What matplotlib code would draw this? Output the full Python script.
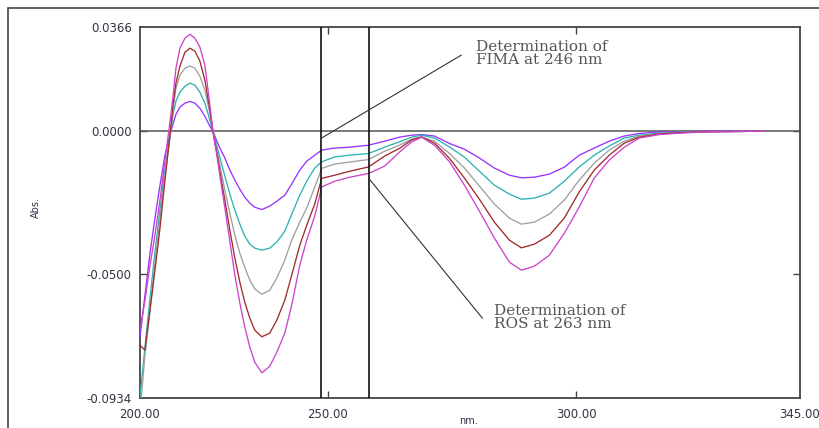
import matplotlib
matplotlib.use("Agg")
import matplotlib.pyplot as plt
from matplotlib.patches import Rectangle

# ---------------- data ----------------
wavelength = [212.25, 213.25, 214.26, 215.26, 216.27, 217.27, 218.27, 218.88, 219.48, 220.28,
              221.29, 222.29, 223.29, 224.30, 225.30, 226.31, 226.91, 227.71, 228.51, 229.32,
              230.32, 231.33, 232.33, 233.33, 234.34, 235.34, 236.75, 238.35, 239.76, 241.37,
              242.77, 244.38, 245.78, 247.39, 248.80, 251.41, 254.42, 258.23, 261.45, 264.46,
              266.87, 268.88, 271.49, 274.50, 277.51, 280.52, 283.53, 286.55, 288.96, 291.57,
              294.58, 297.59, 300.60, 303.61, 306.63, 309.64, 312.65, 316.67, 320.68, 326.71,
              332.73, 337.75]

abs_purple = [-0.0720, -0.0573, -0.0427, -0.0304, -0.0189, -0.0084, -0.0014, 0.0024, 0.0059, 0.0084,
              0.0098, 0.0104, 0.0098, 0.0080, 0.0052, 0.0017, 0.0000, -0.0035, -0.0066, -0.0094,
              -0.0136, -0.0171, -0.0203, -0.0231, -0.0252, -0.0266, -0.0274, -0.0262, -0.0245, -0.0224,
              -0.0185, -0.0136, -0.0105, -0.0084, -0.0066, -0.0059, -0.0056, -0.0049, -0.0035, -0.0021,
              -0.0014, -0.0012, -0.0017, -0.0043, -0.0063, -0.0094, -0.0129, -0.0154, -0.0163, -0.0161,
              -0.0150, -0.0126, -0.0084, -0.0059, -0.0035, -0.0017, -0.0008, -0.0003, -0.0002, 0.0000,
              0.0000, 0.0000]

abs_teal = [-0.0930, -0.0755, -0.0584, -0.0423, -0.0276, -0.0136, -0.0021, 0.0056, 0.0105, 0.0136,
            0.0157, 0.0168, 0.0161, 0.0136, 0.0098, 0.0038, 0.0000, -0.0052, -0.0105, -0.0157,
            -0.0220, -0.0276, -0.0325, -0.0367, -0.0395, -0.0409, -0.0416, -0.0409, -0.0388, -0.0350,
            -0.0290, -0.0224, -0.0175, -0.0129, -0.0107, -0.0090, -0.0084, -0.0078, -0.0056, -0.0037,
            -0.0021, -0.0014, -0.0024, -0.0055, -0.0091, -0.0140, -0.0189, -0.0220, -0.0238, -0.0234,
            -0.0217, -0.0175, -0.0125, -0.0084, -0.0052, -0.0024, -0.0014, -0.0007, -0.0003, -0.0002,
            -0.0001, 0.0000]

abs_gray = [-0.0983, -0.0783, -0.0626, -0.0458, -0.0304, -0.0154, -0.0021, 0.0073, 0.0150, 0.0196,
            0.0220, 0.0228, 0.0220, 0.0192, 0.0143, 0.0063, 0.0000, -0.0066, -0.0136, -0.0206,
            -0.0287, -0.0364, -0.0427, -0.0476, -0.0521, -0.0552, -0.0570, -0.0556, -0.0514, -0.0451,
            -0.0381, -0.0318, -0.0269, -0.0196, -0.0130, -0.0115, -0.0108, -0.0099, -0.0070, -0.0049,
            -0.0028, -0.0020, -0.0035, -0.0078, -0.0129, -0.0192, -0.0255, -0.0304, -0.0325, -0.0318,
            -0.0290, -0.0241, -0.0171, -0.0112, -0.0066, -0.0035, -0.0017, -0.0009, -0.0005, -0.0002,
            -0.0001, 0.0000]

abs_red = [-0.0748, -0.0766, -0.0626, -0.0486, -0.0339, -0.0171, -0.0014, 0.0091, 0.0168, 0.0227,
           0.0276, 0.0290, 0.0280, 0.0245, 0.0178, 0.0073, 0.0000, -0.0077, -0.0161, -0.0241,
           -0.0346, -0.0444, -0.0528, -0.0598, -0.0654, -0.0696, -0.0719, -0.0706, -0.0661, -0.0591,
           -0.0503, -0.0399, -0.0329, -0.0255, -0.0165, -0.0154, -0.0140, -0.0125, -0.0087, -0.0060,
           -0.0031, -0.0020, -0.0042, -0.0095, -0.0164, -0.0238, -0.0318, -0.0381, -0.0408, -0.0395,
           -0.0364, -0.0304, -0.0212, -0.0136, -0.0084, -0.0042, -0.0021, -0.0010, -0.0005, -0.0002,
           -0.0001, 0.0000]

abs_magenta = [-0.0696, -0.0591, -0.0469, -0.0364, -0.0241, -0.0101, 0.0031, 0.0119, 0.0220, 0.0290,
               0.0325, 0.0339, 0.0325, 0.0294, 0.0231, 0.0091, 0.0000, -0.0084, -0.0178, -0.0269,
               -0.0385, -0.0503, -0.0601, -0.0685, -0.0755, -0.0808, -0.0845, -0.0822, -0.0773, -0.0706,
               -0.0608, -0.0469, -0.0381, -0.0297, -0.0195, -0.0175, -0.0161, -0.0148, -0.0122, -0.0073,
               -0.0038, -0.0021, -0.0049, -0.0107, -0.0189, -0.0280, -0.0374, -0.0458, -0.0486, -0.0472,
               -0.0434, -0.0357, -0.0265, -0.0164, -0.0101, -0.0056, -0.0024, -0.0012, -0.0007, -0.0002,
               -0.0001, 0.0000]

series = [abs_purple, abs_teal, abs_gray, abs_red, abs_magenta]
colors = ["#9933ff", "#30b0b0", "#a0a0a0", "#a02c2c", "#cc44cc"]

x_limits = (212.25, 345.0)
y_limits = (-0.0934, 0.0366)
x_tick_pos = [212.25, 250, 300, 345]
x_tick_labels = ["200.00", "250.00", "300.00", "345.00"]
y_tick_pos = [0.0366, 0.0, -0.05, -0.0934]
y_tick_labels = ["0.0366", "0.0000", "-0.0500", "-0.0934"]
marker_lines = [248.73, 258.29]

fima_line = ([248.73, 276.85], [-0.00245, 0.02657])
fima_text_pos = (279.86, 0.0318)
fima_text = "Determination of\nFIMA at 246 nm"
ros_line = ([258.23, 281.12], [-0.01643, -0.0654])
ros_text_pos = (283.53, -0.0606)
ros_text = "Determination of\nROS at 263 nm"

# ---------------- figure ----------------
W, H = 819, 428
fig = plt.figure(figsize=(W / 100, H / 100), dpi=100)
fig.patch.set_facecolor("white")

# outer frame (extends beyond right and bottom edges)
fig.patches.append(Rectangle((8 / W, -0.2), 1.2, 1.2 - 8 / H,
                             transform=fig.transFigure, fill=False,
                             edgecolor="#444444", linewidth=1.2, clip_on=False))

ax = fig.add_axes([140 / W, 1 - 398.3 / H, 660 / W, 371.8 / H])
ax.set_xlim(*x_limits)
ax.set_ylim(*y_limits)

for vals, c in zip(series, colors):
    ax.plot(wavelength, vals, color=c, linewidth=0.95, solid_joinstyle="round", zorder=3)

ax.axhline(0.0, color="#555555", linewidth=1.1, zorder=2)
for xm in marker_lines:
    ax.axvline(xm, color="#111111", linewidth=1.2, zorder=4)

ax.plot(*fima_line, color="#333333", linewidth=0.8, zorder=5)
ax.plot(*ros_line, color="#333333", linewidth=0.8, zorder=5)
ax.text(*fima_text_pos, fima_text, family="DejaVu Serif", fontsize=11, color="#555555",
        ha="left", va="top", linespacing=0.88)
ax.text(*ros_text_pos, ros_text, family="DejaVu Serif", fontsize=11, color="#555555",
        ha="left", va="top", linespacing=0.88)

for s in ax.spines.values():
    s.set_color("#444444")
    s.set_linewidth(1.3)

ax.set_xticks(x_tick_pos)
ax.set_xticklabels(x_tick_labels)
ax.set_yticks(y_tick_pos)
ax.set_yticklabels(y_tick_labels)
ax.tick_params(axis="both", direction="in", length=5, width=1.0, color="#444444",
               top=True, right=True, labelsize=8.5, labelcolor="#333344")
ax.tick_params(axis="y", pad=6)
ax.tick_params(axis="x", pad=7)
# hide tick marks at the axis ends
for t in ax.xaxis.get_major_ticks():
    if t.get_loc() in (x_tick_pos[0], x_tick_pos[-1]):
        t.tick1line.set_visible(False)
        t.tick2line.set_visible(False)
for t in ax.yaxis.get_major_ticks():
    if t.get_loc() in (y_tick_pos[0], y_tick_pos[-1]):
        t.tick1line.set_visible(False)
        t.tick2line.set_visible(False)

fig.text(468 / W, 1 - 421 / H, "nm.", fontsize=7, color="#333344", ha="center", va="center")
fig.text(36 / W, 1 - 207 / H, "Abs.", fontsize=7, color="#333344", ha="center", va="center",
         rotation=90)

fig.savefig("out.png", dpi=100, facecolor="white")
